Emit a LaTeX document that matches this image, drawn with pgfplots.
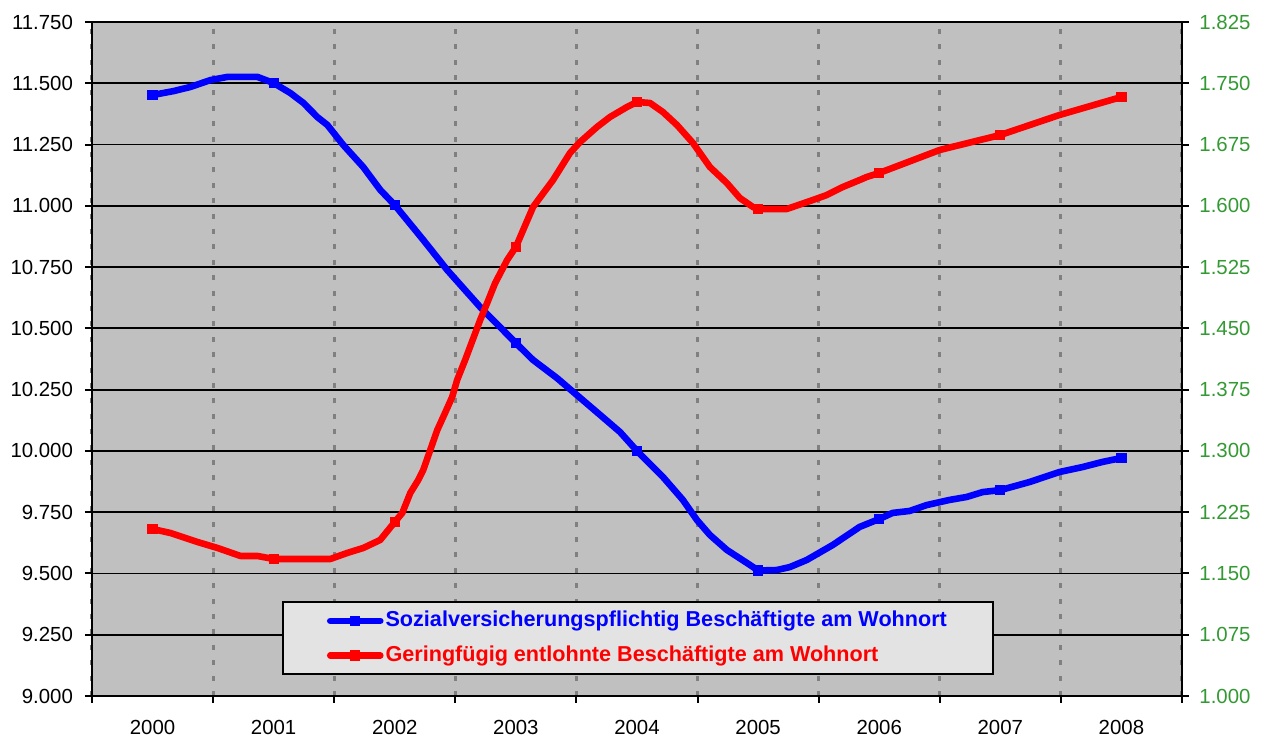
\documentclass[border=0pt]{standalone}
\usepackage{pgfplots}
\pgfplotsset{compat=1.18}
\usepackage{fontspec}
\setmainfont{Liberation Sans}
\definecolor{bggray}{RGB}{192,192,192}
\definecolor{gridgray}{RGB}{128,128,128}
\definecolor{axgreen}{RGB}{51,153,51}
\definecolor{leggray}{RGB}{227,227,227}
\begin{document}
\begin{tikzpicture}
\path[use as bounding box] (-46pt,-21pt) rectangle (586.5pt,348pt);
\pgfplotsset{
  common/.style={
    at={(0pt,0pt)}, anchor=south west,
    scale only axis, width=545pt, height=337pt,
    xmin=-0.5, xmax=8.5,
    tick align=outside,
    major tick length=3.5pt, minor tick length=3.5pt,
    every tick label/.append style={font=\fontsize{10.2}{12}\selectfont},
    /pgf/number format/fixed,
    /pgf/number format/fixed zerofill,
    /pgf/number format/precision=3,
    /pgf/number format/assume math mode=true,
    axis line style={black, line width=1pt},
  }
}
\begin{axis}[common,
  ymin=9, ymax=11.75,
  ytick={9,9.25,9.5,9.75,10,10.25,10.5,10.75,11,11.25,11.5,11.75},
  xtick={0,1,2,3,4,5,6,7,8},
  xticklabels={2000,2001,2002,2003,2004,2005,2006,2007,2008},
  minor xtick={-0.5,0.5,1.5,2.5,3.5,4.5,5.5,6.5,7.5,8.5},
  tick pos=left,
  major x tick style={draw=none},
  minor x tick style={black, line width=1pt},
  y tick style={black, line width=1pt},
  ymajorgrids, xminorgrids,
  major y grid style={black, line width=0.9pt},
  minor x grid style={gridgray, line width=1.5pt, dash pattern=on 2.5pt off 5.2pt},
  axis background/.style={fill=bggray},
  xticklabel style={yshift=-5pt},
  yticklabel style={xshift=-2.5pt},
]
\addplot[blue, line width=3.3pt, line join=round, line cap=round,
  mark=square*, mark size=2.3pt, mark options={solid, line width=0pt, fill=blue},
  mark indices={1,7,15,19,24,31,37,44,49}] coordinates {
(0,11.452) (0.173,11.468) (0.313,11.485) (0.478,11.513) (0.619,11.526) (0.866,11.526)
(1,11.501) (1.138,11.460) (1.245,11.420) (1.361,11.362) (1.443,11.330) (1.575,11.248)
(1.740,11.158) (1.880,11.065) (2,11.003) (2.235,10.861) (2.433,10.738) (2.705,10.587)
(3,10.440) (3.142,10.371) (3.340,10.297) (3.695,10.147) (3.860,10.077) (4,10.000)
(4.214,9.894) (4.379,9.800) (4.495,9.718) (4.602,9.657) (4.742,9.596) (4.932,9.535)
(5,9.512) (5.155,9.514) (5.262,9.526) (5.402,9.555) (5.616,9.616) (5.839,9.690)
(6,9.722) (6.111,9.747) (6.252,9.755) (6.392,9.779) (6.581,9.800) (6.722,9.812)
(6.854,9.832) (7,9.840) (7.241,9.873) (7.489,9.914) (7.678,9.934) (7.843,9.955)
(8,9.971)
};
\end{axis}
\begin{axis}[common,
  ymin=1, ymax=1.825,
  ytick={1,1.075,1.15,1.225,1.3,1.375,1.45,1.525,1.6,1.675,1.75,1.825},
  axis x line=none, axis y line*=right,
  y tick style={black, line width=1pt},
  yticklabel style={text=axgreen, xshift=1.7pt},
  legend cell align=left,
  legend style={at={(0.1743,0.1409)}, anchor=north west,
    draw=black, line width=1pt, fill=leggray,
    inner xsep=22pt, inner ysep=3.5pt, row sep=5.5pt,
    font=\fontsize{10.8}{12}\selectfont\bfseries,
    nodes={inner sep=1pt, text depth=0.2em}},
  legend image code/.code={\draw[#1, mark indices={2}] plot coordinates {(0pt,0pt) (12.5pt,0pt) (25pt,0pt)};},
]
\addlegendimage{blue, line width=3.3pt, line cap=round, mark=square*, mark size=2.3pt, mark options={solid, line width=0pt, fill=blue}}
\addlegendentry{\textcolor{blue}{Sozialversicherungspflichtig Beschäftigte am Wohnort}}
\addplot[red, line width=3.3pt, line join=round, line cap=round,
  mark=square*, mark size=2.3pt, mark options={solid, line width=0pt, fill=red},
  mark indices={1,7,13,28,36,45,52,54,56}] coordinates {
(0,1.2044) (0.148,1.1995) (0.371,1.1885) (0.536,1.1812) (0.726,1.1714) (0.866,1.1714)
(1,1.1677) (1.196,1.1677) (1.468,1.1677) (1.608,1.1751) (1.740,1.1812) (1.880,1.191)
(2,1.213) (2.062,1.224) (2.128,1.2485) (2.194,1.2644) (2.235,1.2766) (2.293,1.3011)
(2.351,1.3256) (2.400,1.3415) (2.474,1.366) (2.515,1.3868) (2.581,1.4113) (2.705,1.4602)
(2.763,1.4811) (2.829,1.5055) (2.928,1.5337) (3,1.5496)
(3.142,1.5986) (3.307,1.6316) (3.447,1.6647) (3.530,1.6781) (3.670,1.6965) (3.777,1.7087)
(3.918,1.721) (4,1.7271) (4.107,1.7259) (4.214,1.7148) (4.330,1.6989) (4.462,1.6769)
(4.602,1.6475) (4.742,1.6279) (4.849,1.6096) (4.957,1.5986) (5,1.5961) (5.237,1.5961)
(5.452,1.6071) (5.567,1.6132) (5.699,1.623) (5.839,1.6316) (5.897,1.6353) (6,1.6402)
(6.499,1.6683) (7,1.6867) (7.489,1.7112) (8,1.7332)
};
\addlegendentry{\textcolor{red}{Geringfügig entlohnte Beschäftigte am Wohnort}}
\end{axis}
\end{tikzpicture}
\end{document}
